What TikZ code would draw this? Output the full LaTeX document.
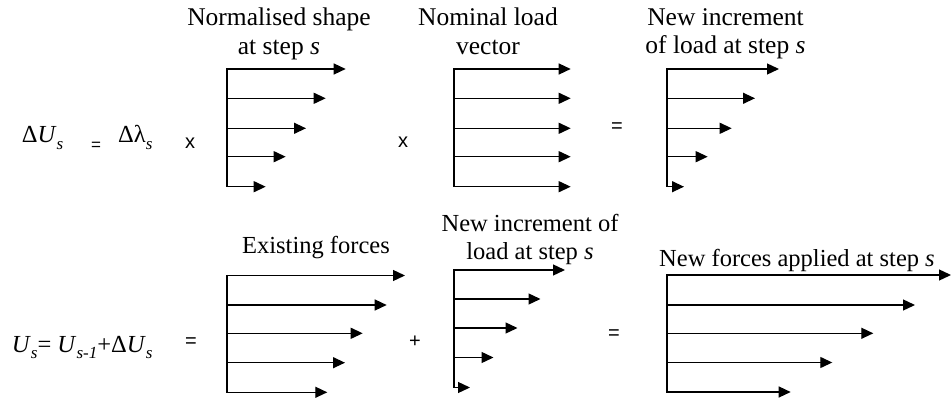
\documentclass[tikz,border=0pt]{standalone}
\usepackage{fontspec}
\setmainfont{Liberation Serif}
\newfontfamily\symfont{Liberation Sans}
\usetikzlibrary{arrows.meta}
\newcommand\lsub[1]{\raisebox{-0.28em}{\fontsize{17}{17}\selectfont\itshape #1}}
% #1 prefix, #2 x of spine, #3 list of y/tip-x
\newcommand\forcefan[3]{%
  \foreach \yy/\xt [count=\ii] in {#3} {
    \coordinate (#1s\ii) at (#2,\yy);
    \coordinate (#1e\ii) at (\xt,\yy);
    \draw[force] (#1s\ii) -- (#1e\ii);
  }
  \draw[spine] (#1s1) -- (#1s5);
}
\begin{document}
\begin{tikzpicture}[x=1pt,y=-1pt,
  force/.style={line width=1.3pt,-{Triangle[length=12pt,width=11pt]}},
  spine/.style={line width=2.2pt,shorten <=-0.65pt,shorten >=-0.65pt},
  lbl/.style={font=\fontsize{24.5}{28.5}\selectfont,align=center,inner sep=0pt,anchor=base},
  toplbl/.style={lbl,font=\fontsize{25.5}{28.5}\selectfont},
  eqn/.style={font=\fontsize{24.5}{28.5}\selectfont,inner sep=0pt,anchor=base west},
  op/.style={font=\symfont\fontsize{20}{20}\selectfont,inner sep=0pt}]
\useasboundingbox (0,0) rectangle (951,401);

% ---- top row ----
\node[eqn] (dU) at (21.7,142.5) {Δ\textit{U}\lsub{s}};
\node[op,font=\symfont\fontsize{17}{17}\selectfont] (eq1) at (96,146.5) {=};
\node[eqn] (dL) at (118,142.5) {Δλ\lsub{s}};
\node[op] (x1) at (190,143) {x};
\node[op] (x2) at (403,142) {x};
\node[op] (eq2) at (617,128) {=};

\forcefan{A}{227}{69/345.7,98.3/325.7,128.3/306,156.7/285.7,186.7/265.7}
\forcefan{B}{454.3}{69/570.7,98.3/570.7,128.3/570.7,156.7/570.7,186.7/570.7}
\forcefan{C}{667.3}{69/779,98.3/755,128.3/731.7,156.7/707.7,186.7/684}

\node[toplbl] (tA) at (279,54.5) {Normalised shape\\at step \textit{s}};
\node[toplbl] (tB) at (488,54.5) {Nominal load\\vector};
\node[toplbl] (tC) at (725.5,54) {New increment\\of load at step \textit{s}};

% ---- bottom row ----
\node[eqn] (Us) at (11.7,352) {\textit{U}\lsub{s}= \textit{U}\lsub{s-1}+Δ\textit{U}\lsub{s}};
\node[op] (eq3) at (191,343) {=};
\node[op] (plus) at (415,341.7) {+};
\node[op] (eq4) at (614,334.5) {=};

\forcefan{D}{226.7}{275.5/405,305/386.7,333.3/362.7,362.7/345,392.3/327.3}
\forcefan{E}{454}{270/565,299/540.5,328/517.5,357.5/493.5,387.5/470}
\forcefan{F}{666.7}{275/951,305/915,333.3/873.3,362.5/832.3,392/790.7}

\node[lbl] (tD) at (316,253.3) {Existing forces};
\node[lbl] (tE) at (530,259.5) {New increment of\\load at step \textit{s}};
\node[lbl] (tF) at (797,266.7) {New forces applied at step \textit{s}};
\end{tikzpicture}
\end{document}
